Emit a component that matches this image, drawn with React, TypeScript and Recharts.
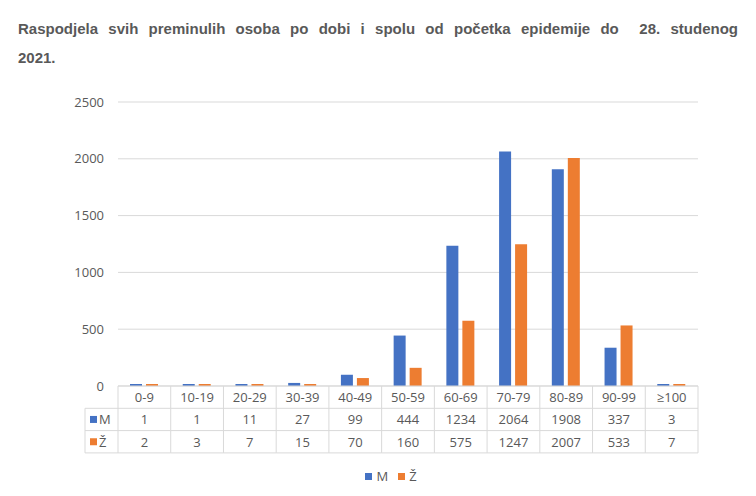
import React from 'react';
import { BarChart, Bar, XAxis, YAxis, CartesianGrid, Legend } from 'recharts';

const categories = ['0-9', '10-19', '20-29', '30-39', '40-49', '50-59', '60-69', '70-79', '80-89', '90-99', '≥100'];
const maleValues = [1, 1, 11, 27, 99, 444, 1234, 2064, 1908, 337, 3];
const femaleValues = [2, 3, 7, 15, 70, 160, 575, 1247, 2007, 533, 7];
const yTicks = [0, 500, 1000, 1500, 2000, 2500];
const seriesNames = ['M', 'Ž'];
const seriesColors = ['#4472C4', '#ED7D31'];

const data = categories.map((c, i) => ({ age: c, M: maleValues[i], Z: femaleValues[i] }));

const W = 756;
const H = 496;
const PLOT_LEFT = 118;
const PLOT_RIGHT = 698;
const PLOT_TOP = 102;
const PLOT_BOTTOM = 386;
const Y_AXIS_W = 50;
const X_AXIS_H = 70;
const BAND = (PLOT_RIGHT - PLOT_LEFT) / categories.length;
const ROW = 22.3;
const HEADER_LEFT = 85;
const GRID = '#d9d9d9';
const TEXT = '#595959';
const FONT = '"Open Sans", sans-serif';

const TableTick = (props: any) => {
  const { x, y, payload } = props;
  const i: number = payload.index;
  const left = x - BAND / 2;
  const right = x + BAND / 2;
  const rowsVals = [categories[i], String(maleValues[i]), String(femaleValues[i])];
  return (
    <g>
      <line x1={right} x2={right} y1={y} y2={y + 3 * ROW} stroke={GRID} />
      {i === 0 && <line x1={left} x2={left} y1={y} y2={y + 3 * ROW} stroke={GRID} />}
      {[1, 2, 3].map((r) => (
        <line key={r} x1={i === 0 ? HEADER_LEFT : left} x2={right} y1={y + r * ROW} y2={y + r * ROW} stroke={GRID} />
      ))}
      {i === 0 && (
        <g>
          <line x1={HEADER_LEFT} x2={HEADER_LEFT} y1={y + ROW} y2={y + 3 * ROW} stroke={GRID} />
          {seriesNames.map((n, k) => (
            <g key={n}>
              <rect x={90} y={y + (k + 1.5) * ROW - 3.5} width={7} height={7} fill={seriesColors[k]} />
              <text x={99} y={y + (k + 1.5) * ROW} dominantBaseline="central" fontFamily={FONT} fontSize={13} fill={TEXT}>
                {n}
              </text>
            </g>
          ))}
        </g>
      )}
      {rowsVals.map((v, r) => (
        <text
          key={r}
          x={x}
          y={y + (r + 0.5) * ROW}
          textAnchor="middle"
          dominantBaseline="central"
          fontFamily={FONT}
          fontSize={13}
          fill={TEXT}
        >
          {v}
        </text>
      ))}
    </g>
  );
};

export default function App() {
  return (
    <div style={{ position: 'absolute', left: 0, top: 0, width: W, height: H, background: '#fff', fontFamily: FONT }}>
      <div
        style={{
          position: 'absolute',
          left: 18,
          top: 14,
          width: 720,
          fontFamily: '"Liberation Sans", Arial, sans-serif',
          fontWeight: 'bold',
          fontSize: 15,
          lineHeight: '29px',
          color: TEXT,
        }}
      >
        <div style={{ textAlign: 'justify', textAlignLast: 'justify' }}>
          Raspodjela svih preminulih osoba po dobi i spolu od početka epidemije do{'\u00a0'} 28. studenog
        </div>
        <div>2021.</div>
      </div>
      <div style={{ position: 'absolute', left: 0, top: 0 }}>
        <BarChart
          width={W}
          height={H}
          data={data}
          margin={{ top: PLOT_TOP, right: W - PLOT_RIGHT, left: PLOT_LEFT - Y_AXIS_W, bottom: H - PLOT_BOTTOM - X_AXIS_H }}
          barSize={12}
          barGap={4}
        >
          <CartesianGrid vertical={false} stroke={GRID} />
          <XAxis
            dataKey="age"
            height={X_AXIS_H}
            axisLine={{ stroke: GRID }}
            tickLine={false}
            tickSize={0}
            tickMargin={0}
            interval={0}
            tick={<TableTick />}
          />
          <YAxis
            width={Y_AXIS_W}
            domain={[0, 2500]}
            ticks={yTicks}
            axisLine={false}
            tickLine={false}
            tickSize={0}
            tickMargin={14}
            tick={{ fill: TEXT, fontSize: 13, fontFamily: FONT }}
          />
          <Legend
            layout="horizontal"
            verticalAlign="middle"
            align="center"
            iconType="square"
            iconSize={7}
            formatter={(v: any) => <span style={{ color: TEXT, fontSize: 13, fontFamily: FONT }}>{v}</span>}
            wrapperStyle={{ position: 'absolute', top: 464, left: 18, width: W, fontFamily: FONT }}
          />
          <Bar dataKey="M" name={seriesNames[0]} fill={seriesColors[0]} minPointSize={2} isAnimationActive={false} />
          <Bar dataKey="Z" name={seriesNames[1]} fill={seriesColors[1]} minPointSize={2} isAnimationActive={false} />
        </BarChart>
      </div>
    </div>
  );
}
